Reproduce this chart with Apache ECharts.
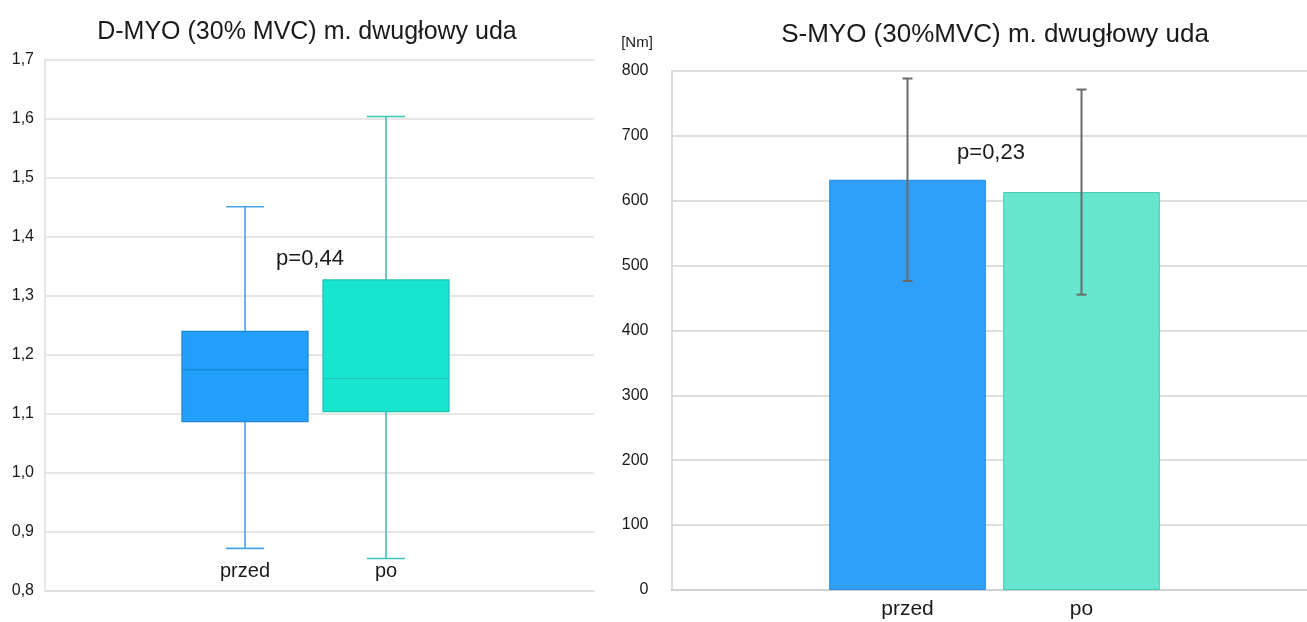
<!DOCTYPE html>
<html>
<head>
<meta charset="utf-8">
<script src="https://cdn.jsdelivr.net/npm/echarts@6/dist/echarts.min.js"></script>
<style>
  html, body { margin: 0; padding: 0; background: #ffffff; }
  #chart { width: 1307px; height: 622px; }
</style>
</head>
<body>
<div id="chart"></div>
<script>
// Measurement groups
const groups = ['przed', 'po'];

// D-MYO (30% MVC): box statistics per group
const dMin = [0.871, 0.854];
const dQ1 = [1.086, 1.103];
const dMedian = [1.174, 1.159];
const dQ3 = [1.239, 1.326];
const dMax = [1.450, 1.603];

// S-MYO (30% MVC): mean and standard deviation per group [Nm]
const sMean = [632, 613];
const sSD = [156, 158];

// Annotations
const titleLeft = 'D-MYO (30% MVC) m. dwugłowy uda';
const titleRight = 'S-MYO (30%MVC) m. dwugłowy uda';
const unitRight = '[Nm]';
const pLeft = 'p=0,44';
const pRight = 'p=0,23';

const FONT = '"Liberation Sans", Arial, Helvetica, sans-serif';
const boxFill = ['#229ffc', '#17e5cf'];
const boxStroke = ['#1b86d4', '#20c2b1'];
const whiskerColor = ['#4aa2e0', '#3cc3b3'];
const barFill = ['#2f9ff8', '#67e6cf'];
const barStroke = ['#1f8ae4', '#3ccab3'];

const boxData = groups.map((g, i) => [i, dMin[i], dQ1[i], dMedian[i], dQ3[i], dMax[i]]);
const errData = groups.map((g, i) => [i, sMean[i], sSD[i]]);

const commaLabel = v => Number(v).toFixed(1).replace('.', ',');

function renderBox(params, api) {
  const i = api.value(0);
  const band = api.size([1, 0])[0];
  const boxW = band * 0.894;
  const capW = band * 0.27;
  const pMin = api.coord([i, api.value(1)]);
  const pQ1 = api.coord([i, api.value(2)]);
  const pMed = api.coord([i, api.value(3)]);
  const pQ3 = api.coord([i, api.value(4)]);
  const pMax = api.coord([i, api.value(5)]);
  const x = pMin[0];
  const wStyle = { stroke: whiskerColor[i], lineWidth: 1.6 };
  return {
    type: 'group',
    children: [
      { type: 'line', shape: { x1: x, y1: pMax[1], x2: x, y2: pQ3[1] }, style: wStyle },
      { type: 'line', shape: { x1: x, y1: pQ1[1], x2: x, y2: pMin[1] }, style: wStyle },
      { type: 'line', shape: { x1: x - capW / 2, y1: pMax[1], x2: x + capW / 2, y2: pMax[1] }, style: wStyle },
      { type: 'line', shape: { x1: x - capW / 2, y1: pMin[1], x2: x + capW / 2, y2: pMin[1] }, style: wStyle },
      { type: 'rect', shape: { x: x - boxW / 2, y: pQ3[1], width: boxW, height: pQ1[1] - pQ3[1] },
        style: { fill: boxFill[i], stroke: boxStroke[i], lineWidth: 1.2 } },
      { type: 'line', shape: { x1: x - boxW / 2, y1: pMed[1], x2: x + boxW / 2, y2: pMed[1] },
        style: { stroke: boxStroke[i], lineWidth: 1.2 } }
    ]
  };
}

function renderErr(params, api) {
  const i = api.value(0);
  const mean = api.value(1);
  const sd = api.value(2);
  const top = api.coord([i, mean + sd]);
  const bot = api.coord([i, mean - sd]);
  const x = top[0];
  const capW = 10;
  const st = { stroke: '#6a6a6a', lineWidth: 2 };
  return {
    type: 'group',
    children: [
      { type: 'line', shape: { x1: x, y1: top[1], x2: x, y2: bot[1] }, style: st },
      { type: 'line', shape: { x1: x - capW / 2, y1: top[1], x2: x + capW / 2, y2: top[1] }, style: st },
      { type: 'line', shape: { x1: x - capW / 2, y1: bot[1], x2: x + capW / 2, y2: bot[1] }, style: st }
    ]
  };
}

const chart = echarts.init(document.getElementById('chart'), null, { renderer: 'canvas' });

const hiddenAxisParts = {
  axisLine: { show: false }, axisTick: { show: false },
  axisLabel: { show: false }, splitLine: { show: false }
};

chart.setOption({
  backgroundColor: '#ffffff',
  animation: false,
  textStyle: { fontFamily: FONT },
  title: [
    { text: titleLeft, left: 307, top: 20, padding: 0, textAlign: 'center',
      textStyle: { fontFamily: FONT, fontSize: 25, fontWeight: 'normal', color: '#1a1a1a' } },
    { text: titleRight, left: 995, top: 22, padding: 0, textAlign: 'center',
      textStyle: { fontFamily: FONT, fontSize: 26, fontWeight: 'normal', color: '#1a1a1a' } }
  ],
  grid: [
    { left: 45, top: 59.3, width: 549, height: 531, outerBoundsMode: 'none', containLabel: false },
    { left: 174.5, top: 59.3, width: 282, height: 531, outerBoundsMode: 'none', containLabel: false },
    { left: 671.5, top: 70.7, width: 635.5, height: 519.3, outerBoundsMode: 'none', containLabel: false },
    { left: 820.5, top: 70.7, width: 348, height: 519.3, outerBoundsMode: 'none', containLabel: false }
  ],
  xAxis: [
    { gridIndex: 0, type: 'category', data: [''], boundaryGap: true,
      axisLine: { show: true, lineStyle: { color: '#dedede', width: 1.5 } },
      axisTick: { show: false }, axisLabel: { show: false }, splitLine: { show: false } },
    { gridIndex: 1, type: 'category', data: groups,
      axisLine: { show: false }, axisTick: { show: false }, splitLine: { show: false },
      axisLabel: { show: true, inside: true, margin: 9, fontSize: 20, color: '#1a1a1a', fontFamily: FONT } },
    { gridIndex: 2, type: 'category', data: [''], boundaryGap: true,
      axisLine: { show: true, lineStyle: { color: '#d2d2d2', width: 2 } },
      axisTick: { show: false }, axisLabel: { show: false }, splitLine: { show: false } },
    { gridIndex: 3, type: 'category', data: groups,
      axisLine: { show: false }, axisTick: { show: false }, splitLine: { show: false },
      axisLabel: { show: true, margin: 9, fontSize: 21, color: '#1a1a1a', fontFamily: FONT } }
  ],
  yAxis: [
    { gridIndex: 0, type: 'value', min: 0.8, max: 1.7, interval: 0.1,
      axisLine: { show: true, lineStyle: { color: '#dedede', width: 1.5 } },
      axisTick: { show: false },
      axisLabel: { show: true, margin: 11, fontSize: 16, color: '#1a1a1a', fontFamily: FONT, formatter: commaLabel },
      splitLine: { show: true, lineStyle: { color: '#dedede', width: 1.5 } } },
    Object.assign({ gridIndex: 1, type: 'value', min: 0.8, max: 1.7 }, hiddenAxisParts),
    { gridIndex: 2, type: 'value', min: 0, max: 800, interval: 100,
      axisLine: { show: true, lineStyle: { color: '#d2d2d2', width: 1.5 } },
      axisTick: { show: false },
      axisLabel: { show: true, margin: 23, fontSize: 16, color: '#1a1a1a', fontFamily: FONT },
      splitLine: { show: true, lineStyle: { color: '#d2d2d2', width: 1.5 } } },
    Object.assign({ gridIndex: 3, type: 'value', min: 0, max: 800 }, hiddenAxisParts)
  ],
  series: [
    { type: 'custom', name: 'D-MYO', xAxisIndex: 1, yAxisIndex: 1,
      renderItem: renderBox, data: boxData, encode: { x: 0, y: [1, 2, 3, 4, 5] }, z: 3 },
    { type: 'bar', name: 'S-MYO', xAxisIndex: 3, yAxisIndex: 3, barWidth: '90%',
      data: groups.map((g, i) => ({ value: sMean[i],
        itemStyle: { color: barFill[i], borderColor: barStroke[i], borderWidth: 1 } })),
      z: 3 },
    { type: 'custom', name: 'SD', xAxisIndex: 3, yAxisIndex: 3,
      renderItem: renderErr, data: errData, encode: { x: 0, y: [1] }, z: 5 }
  ],
  graphic: [
    { type: 'text', x: 310, y: 259, z: 10,
      style: { text: pLeft, fill: '#1a1a1a', font: '22px ' + FONT, textAlign: 'center', textVerticalAlign: 'middle' } },
    { type: 'text', x: 991, y: 153, z: 10,
      style: { text: pRight, fill: '#1a1a1a', font: '22px ' + FONT, textAlign: 'center', textVerticalAlign: 'middle' } },
    { type: 'text', x: 637, y: 43, z: 10,
      style: { text: unitRight, fill: '#1a1a1a', font: '15px ' + FONT, textAlign: 'center', textVerticalAlign: 'middle' } }
  ]
});
</script>
</body>
</html>
